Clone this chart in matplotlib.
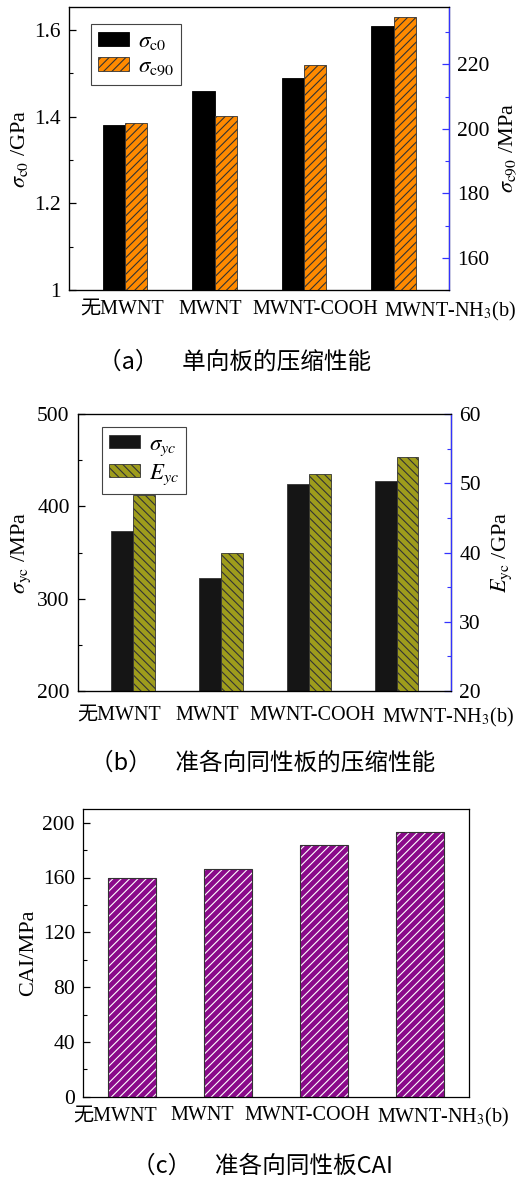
import matplotlib
matplotlib.use("Agg")
import matplotlib.pyplot as plt
import matplotlib.transforms as mtransforms
from matplotlib.ticker import MultipleLocator, FuncFormatter
from matplotlib.patches import Patch
import numpy as np

plt.rcParams['font.family'] = ['Liberation Serif', 'Noto Sans CJK SC', 'DejaVu Sans']
plt.rcParams['mathtext.fontset'] = 'stix'
plt.rcParams['hatch.linewidth'] = 0.8

categories = ['无MWNT', 'MWNT', 'MWNT-COOH', 'MWNT-NH$_3$(b)']

# panel (a)
sigma_c0 = [1.38, 1.46, 1.49, 1.61]          # GPa (left axis)
sigma_c90 = [201.9, 203.9, 219.7, 234.7]     # MPa (right axis)
# panel (b)
sigma_yc = [373, 322, 424, 428]              # MPa (left axis)
E_yc = [48.3, 40.0, 51.4, 53.8]              # GPa (right axis)
# panel (c)
cai = [160, 166, 184, 193]                   # MPa

captions = ['（a）\u3000单向板的压缩性能', '（b）\u3000准各向同性板的压缩性能', '（c）\u3000准各向同性板CAI']

W, H = 521, 1179
fig = plt.figure(figsize=(W / 100, H / 100), dpi=100)


def px_axes(l, t, r, b):
    return fig.add_axes([l / W, 1 - b / H, (r - l) / W, (b - t) / H])


YTICK_FS = 15.5
XTICK_FS = 14.5
LABEL_FS = 16
CAP_FS = 17
BLUE = '#3333ff'
CJK = ['Noto Sans CJK SC', 'DejaVu Sans']


def style_left(ax, major, minor, xpad=6):
    ax.yaxis.set_major_locator(MultipleLocator(major))
    ax.yaxis.set_minor_locator(MultipleLocator(minor))
    ax.tick_params(axis='y', which='major', direction='in', length=5, width=0.9, labelsize=YTICK_FS, pad=6)
    ax.tick_params(axis='y', which='minor', direction='in', length=3, width=0.8)
    ax.tick_params(axis='x', length=0, labelsize=XTICK_FS, pad=xpad)
    for s in ax.spines.values():
        s.set_linewidth(0.9)


def style_right(ax2, major, minor):
    ax2.yaxis.set_major_locator(MultipleLocator(major))
    ax2.yaxis.set_minor_locator(MultipleLocator(minor))
    ax2.tick_params(axis='y', which='major', direction='in', length=5, width=0.9, color=BLUE,
                    labelsize=YTICK_FS, pad=6)
    ax2.tick_params(axis='y', which='minor', direction='in', length=3, width=0.8, color=BLUE)
    ax2.spines['right'].set_color(BLUE)
    ax2.spines['right'].set_linewidth(0.9)


def shift_labels(ax, offsets_px):
    for lab, dx in zip(ax.get_xticklabels(), offsets_px):
        lab.set_transform(lab.get_transform() + mtransforms.ScaledTranslation(dx / 100, 0, fig.dpi_scale_trans))


def make_legend(axl, handles, labels, anchor):
    leg = axl.legend(handles, labels, loc='upper left', bbox_to_anchor=anchor, borderaxespad=0,
                     fontsize=16.5, fancybox=False, edgecolor='#444444',
                     handlelength=1.35, handleheight=0.55, borderpad=0.3, labelspacing=0.2,
                     handletextpad=0.4, framealpha=1)
    leg.get_frame().set_linewidth(0.8)
    return leg


x = np.arange(1, len(categories) + 1)
bw = 0.25

# ---------------- panel (a) ----------------
ORANGE = '#ff8a00'
ax = px_axes(69, 7, 449, 290)
ax2 = ax.twinx()
ax.bar(x - bw / 2, sigma_c0, bw, color='black', edgecolor='black', linewidth=0.6)
ax2.bar(x + bw / 2, sigma_c90, bw, color=ORANGE, edgecolor='#333333', linewidth=0.6, hatch='////')
ax.set_xlim(0.374, 4.62)
ax.set_ylim(1.0, 1.653)
ax2.set_ylim(150, 237.8)
ax.set_xticks(x)
ax.set_xticklabels(categories)
style_left(ax, 0.2, 0.1, xpad=7)
style_right(ax2, 20, 10)
ax.yaxis.set_major_formatter(FuncFormatter(lambda v, p: '1' if abs(v - 1) < 1e-9 else f'{v:.1f}'))
shift_labels(ax, [-3, -4, 11, 57])
ax.set_ylabel(r'$\sigma_{\mathrm{c0}}$ /GPa', fontsize=LABEL_FS, labelpad=3)
ax2.set_ylabel(r'$\sigma_{\mathrm{c90}}$ /MPa', fontsize=LABEL_FS, labelpad=6)
make_legend(ax2,
            [Patch(facecolor='black', edgecolor='black', linewidth=0.6),
             Patch(facecolor=ORANGE, edgecolor='#333333', hatch='////', linewidth=0.6)],
            [r'$\sigma_{\mathrm{c0}}$', r'$\sigma_{\mathrm{c90}}$'], (0.058, 0.94))
fig.text(235 / W, 1 - 362 / H, captions[0], ha='center', va='center', fontsize=CAP_FS, family=CJK)

# ---------------- panel (b) ----------------
OLIVE = '#9e9c1c'
ax = px_axes(78, 414.3, 451, 690.7)
ax2 = ax.twinx()
ax.bar(x - bw / 2, sigma_yc, bw, color='#151515', edgecolor='#333333', linewidth=0.6)
ax2.bar(x + bw / 2, E_yc, bw, color=OLIVE, edgecolor='#333333', linewidth=0.6, hatch='\\\\\\\\')
ax.set_xlim(0.374, 4.62)
ax.set_ylim(200, 500)
ax2.set_ylim(20, 60)
ax.set_xticks(x)
ax.set_xticklabels(categories)
style_left(ax, 100, 50, xpad=11)
style_right(ax2, 10, 5)
shift_labels(ax, [-14, -14, 4, 52])
ax.set_ylabel(r'$\sigma_{\mathrm{yc}}$ /MPa', fontsize=LABEL_FS, labelpad=3)
ax2.set_ylabel(r'$E_{\mathrm{yc}}$ /GPa', fontsize=LABEL_FS, labelpad=6)
make_legend(ax2,
            [Patch(facecolor='#151515', edgecolor='#333333', linewidth=0.6),
             Patch(facecolor=OLIVE, edgecolor='#333333', hatch='\\\\\\\\', linewidth=0.6)],
            [r'$\sigma_{\mathit{yc}}$', r'$E_{\mathit{yc}}$'], (0.064, 0.955))
fig.text(263 / W, 1 - 763 / H, captions[1], ha='center', va='center', fontsize=CAP_FS, family=CJK)

# ---------------- panel (c) ----------------
PURPLE = '#8a0a8a'
ax = px_axes(83.3, 809, 469.3, 1096.7)
plt.rcParams['hatch.color'] = 'white'
ax.bar(x, cai, 0.5, color=PURPLE, edgecolor='white', linewidth=0.0, hatch='////')
ax.bar(x, cai, 0.5, color='none', edgecolor='#333333', linewidth=0.8)
ax.set_xlim(0.495, 4.51)
ax.set_ylim(0, 210)
ax.set_xticks(x)
ax.set_xticklabels(categories)
style_left(ax, 40, 20, xpad=7)
shift_labels(ax, [-17, -26, -17, 23])
ax.set_ylabel('CAI/MPa', fontsize=LABEL_FS, labelpad=3)
fig.text(262 / W, 1 - 1166.7 / H, captions[2], ha='center', va='center', fontsize=CAP_FS, family=CJK)

fig.savefig('out.png', dpi=100)
